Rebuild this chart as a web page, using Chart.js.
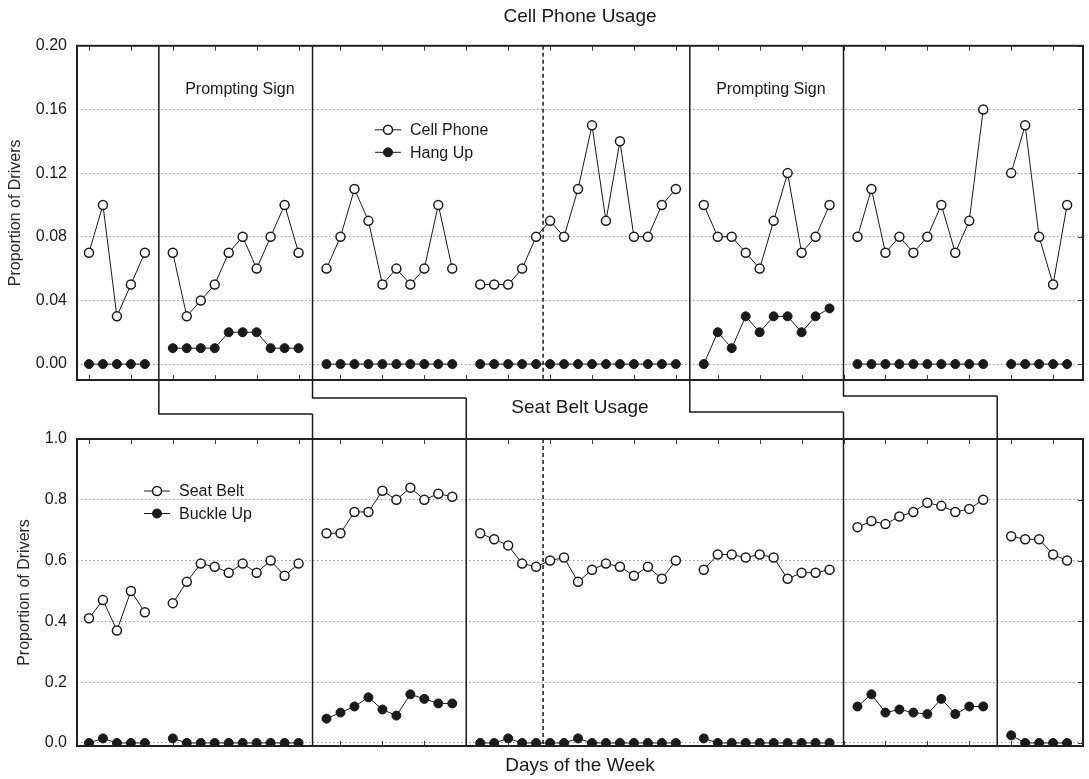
<!DOCTYPE html>
<html lang="en">
<head>
<meta charset="UTF-8">
<title>Cell Phone and Seat Belt Usage</title>
<script src="https://cdn.jsdelivr.net/npm/chart.js"></script>
<style>
  body { margin: 0; background: #fff; }
  .wrap { position: relative; width: 1089px; height: 779px; }
  .wrap canvas { position: absolute; left: 0; top: 0; }
</style>
</head>
<body>
<div class="wrap">
  <canvas id="bottomChart" width="1089" height="779"></canvas>
  <canvas id="topChart" width="1089" height="779"></canvas>
</div>
<script>
const cellPhone = [0.07, 0.10, 0.03, 0.05, 0.07, null,
  0.07, 0.03, 0.04, 0.05, 0.07, 0.08, 0.06, 0.08, 0.10, 0.07, null,
  0.06, 0.08, 0.11, 0.09, 0.05, 0.06, 0.05, 0.06, 0.10, 0.06, null,
  0.05, 0.05, 0.05, 0.06, 0.08, 0.09, 0.08, 0.11, 0.15, 0.09, 0.14, 0.08, 0.08, 0.10, 0.11, null,
  0.10, 0.08, 0.08, 0.07, 0.06, 0.09, 0.12, 0.07, 0.08, 0.10, null,
  0.08, 0.11, 0.07, 0.08, 0.07, 0.08, 0.10, 0.07, 0.09, 0.16, null,
  0.12, 0.15, 0.08, 0.05, 0.10];
const hangUp = [0, 0, 0, 0, 0, null,
  0.01, 0.01, 0.01, 0.01, 0.02, 0.02, 0.02, 0.01, 0.01, 0.01, null,
  0, 0, 0, 0, 0, 0, 0, 0, 0, 0, null,
  0, 0, 0, 0, 0, 0, 0, 0, 0, 0, 0, 0, 0, 0, 0, null,
  0, 0.02, 0.01, 0.03, 0.02, 0.03, 0.03, 0.02, 0.03, 0.035, null,
  0, 0, 0, 0, 0, 0, 0, 0, 0, 0, null,
  0, 0, 0, 0, 0];
const seatBelt = [0.41, 0.47, 0.37, 0.50, 0.43, null,
  0.46, 0.53, 0.59, 0.58, 0.56, 0.59, 0.56, 0.60, 0.55, 0.59, null,
  0.69, 0.69, 0.76, 0.76, 0.83, 0.80, 0.84, 0.80, 0.82, 0.81, null,
  0.69, 0.67, 0.65, 0.59, 0.58, 0.60, 0.61, 0.53, 0.57, 0.59, 0.58, 0.55, 0.58, 0.54, 0.60, null,
  0.57, 0.62, 0.62, 0.61, 0.62, 0.61, 0.54, 0.56, 0.56, 0.57, null,
  0.71, 0.73, 0.72, 0.745, 0.76, 0.79, 0.78, 0.76, 0.77, 0.80, null,
  0.68, 0.67, 0.67, 0.62, 0.60];
const buckleUp = [0, 0.015, 0, 0, 0, null,
  0.015, 0, 0, 0, 0, 0, 0, 0, 0, 0, null,
  0.08, 0.10, 0.12, 0.15, 0.11, 0.09, 0.16, 0.145, 0.13, 0.13, null,
  0, 0, 0.015, 0, 0, 0, 0, 0.015, 0, 0, 0, 0, 0, 0, 0, null,
  0.015, 0, 0, 0, 0, 0, 0, 0, 0, 0, null,
  0.12, 0.16, 0.10, 0.11, 0.10, 0.095, 0.145, 0.095, 0.12, 0.12, null,
  0.025, 0, 0, 0, 0];

const topTicks = [0, 0.04, 0.08, 0.12, 0.16, 0.20];
const bottomTicks = [0, 0.2, 0.4, 0.6, 0.8, 1.0];
// phase change lines (day slots), top panel -> bottom panel
const phaseTop = [5, 16, 43, 54];
const phaseBottom = [16, 27, 54, 65];
const dashedDay = 32.5;
const promptPhases = [[6, 15], [44, 53]];

Chart.defaults.font.family = '"Liberation Sans", Arial, sans-serif';
Chart.defaults.color = '#1a1a1a';

const ink = '#1a1a1a';

function toPoints(arr) {
  return arr.map((v, i) => ({ x: i, y: v }));
}

// border, inward ticks, phase lines, notes, legend
const panelDecor = {
  id: 'panelDecor',
  beforeDatasetsDraw(chart, args, o) {
    const ctx = chart.ctx, a = chart.chartArea;
    const xs = chart.scales.x, ys = chart.scales.y;
    ctx.save();
    ctx.strokeStyle = '#444';
    ctx.lineWidth = 1;
    ctx.beginPath();
    xs.ticks.forEach(t => {
      const px = Math.round(xs.getPixelForValue(t.value)) + 0.5;
      ctx.moveTo(px, a.top); ctx.lineTo(px, a.top + 5);
      ctx.moveTo(px, a.bottom); ctx.lineTo(px, a.bottom - 5);
    });
    ys.ticks.forEach(t => {
      const py = Math.round(ys.getPixelForValue(t.value)) + 0.5;
      ctx.moveTo(a.right, py); ctx.lineTo(a.right - 5, py);
    });
    ctx.stroke();

    ctx.strokeStyle = ink;
    ctx.lineWidth = 1.5;
    ctx.beginPath();
    phaseTop.forEach((d, i) => {
      const xt = xs.getPixelForValue(d), xb = xs.getPixelForValue(phaseBottom[i]);
      const s = o.steps[i];
      if (o.panel === 'top') {
        ctx.moveTo(xt, a.top); ctx.lineTo(xt, s); ctx.lineTo(xb, s);
      } else {
        ctx.moveTo(xb, s); ctx.lineTo(xb, a.bottom);
      }
    });
    ctx.stroke();

    const xd = xs.getPixelForValue(dashedDay);
    ctx.setLineDash([4, 3]);
    ctx.beginPath();
    ctx.moveTo(xd, a.top); ctx.lineTo(xd, a.bottom);
    ctx.stroke();
    ctx.setLineDash([]);

    ctx.lineWidth = 2;
    ctx.strokeStyle = '#222';
    ctx.strokeRect(a.left, a.top, a.width, a.height);

    if (o.notes) {
      ctx.fillStyle = ink;
      ctx.font = '16px "Liberation Sans", Arial, sans-serif';
      ctx.textAlign = 'center';
      ctx.textBaseline = 'middle';
      promptPhases.forEach(p => {
        const cx = xs.getPixelForValue((p[0] + p[1]) / 2 + 0.3);
        ctx.fillText('Prompting Sign', cx, a.top + 44);
      });
    }
    ctx.restore();
  },
  afterDatasetsDraw(chart, args, o) {
    const ctx = chart.ctx, a = chart.chartArea;
    const lx = a.left + o.legendX, ly = a.top + o.legendY;
    ctx.save();
    ctx.font = '16px "Liberation Sans", Arial, sans-serif';
    ctx.textBaseline = 'middle';
    ctx.textAlign = 'left';
    chart.data.datasets.forEach((ds, i) => {
      const y = ly + i * 22.5;
      ctx.strokeStyle = ink;
      ctx.lineWidth = 1;
      ctx.beginPath();
      ctx.moveTo(lx, y); ctx.lineTo(lx + 26, y);
      ctx.stroke();
      ctx.beginPath();
      ctx.arc(lx + 13, y, ds.pointRadius, 0, Math.PI * 2);
      ctx.fillStyle = ds.pointBackgroundColor;
      ctx.fill();
      ctx.lineWidth = ds.pointBorderWidth;
      ctx.stroke();
      ctx.fillStyle = ink;
      ctx.fillText(ds.label, lx + 35, y + 1);
    });
    ctx.restore();
  }
};

function openSeries(label, arr) {
  return {
    label: label, data: toPoints(arr),
    borderColor: ink, borderWidth: 1,
    pointRadius: 4.5, pointBorderWidth: 1.5,
    pointBackgroundColor: '#fff', pointBorderColor: ink,
    pointHoverRadius: 4.5
  };
}
function filledSeries(label, arr) {
  return {
    label: label, data: toPoints(arr),
    borderColor: ink, borderWidth: 1,
    pointRadius: 4.5, pointBorderWidth: 1,
    pointBackgroundColor: ink, pointBorderColor: ink,
    pointHoverRadius: 4.5
  };
}

function xScale(withTitle) {
  return {
    type: 'linear', min: -0.857, max: 71.14,
    afterBuildTicks: s => {
      const t = [];
      for (let v = 0; v <= 69; v += 3) t.push({ value: v });
      s.ticks = t;
    },
    grid: { display: false, drawTicks: false },
    border: { display: false },
    ticks: { display: false },
    title: withTitle ? {
      display: true, text: 'Days of the Week',
      font: { size: 19 }, color: ink,
      padding: { top: 8.6, bottom: 1.6 }
    } : { display: false }
  };
}

function yScale(min, max, ticks, digits, titlePad) {
  return {
    type: 'linear', min: min, max: max,
    afterBuildTicks: s => { s.ticks = ticks.map(v => ({ value: v })); },
    afterFit: s => { s.width = 77; },
    grid: { color: '#a0a0a0', lineWidth: 1, drawTicks: false },
    border: { display: false, dash: [1.5, 2.5] },
    ticks: { padding: 10, font: { size: 16 }, color: ink,
             callback: v => v.toFixed(digits) },
    title: { display: true, text: 'Proportion of Drivers',
             font: { size: 16 }, color: '#2a2a2a',
             padding: { top: titlePad, bottom: 0 } }
  };
}

new Chart(document.getElementById('topChart'), {
  type: 'line',
  data: { datasets: [openSeries('Cell Phone', cellPhone), filledSeries('Hang Up', hangUp)] },
  options: {
    responsive: false, animation: false, devicePixelRatio: 1,
    events: [],
    layout: { padding: { left: 0, right: 4, top: 0, bottom: 399 } },
    scales: { x: xScale(false), y: yScale(-0.01, 0.20, topTicks, 2, 6) },
    plugins: {
      legend: { display: false }, tooltip: { enabled: false },
      title: { display: true, text: 'Cell Phone Usage', fullSize: false,
               font: { size: 19, weight: 'normal' }, color: ink,
               padding: { top: 5, bottom: 18 } },
      panelDecor: { panel: 'top', steps: [414, 398, 412, 396], notes: true,
                    legendX: 298, legendY: 84 }
    }
  },
  plugins: [panelDecor]
});

new Chart(document.getElementById('bottomChart'), {
  type: 'line',
  data: { datasets: [openSeries('Seat Belt', seatBelt), filledSeries('Buckle Up', buckleUp)] },
  options: {
    responsive: false, animation: false, devicePixelRatio: 1,
    events: [],
    layout: { padding: { left: 0, right: 4, top: 396, bottom: 0 } },
    scales: { x: xScale(true), y: yScale(-0.01, 1.0, bottomTicks, 1, 15) },
    plugins: {
      legend: { display: false }, tooltip: { enabled: false },
      title: { display: true, text: 'Seat Belt Usage', fullSize: false,
               font: { size: 19, weight: 'normal' }, color: ink,
               padding: { top: 0, bottom: 20.2 } },
      panelDecor: { panel: 'bottom', steps: [414, 398, 412, 396], notes: false,
                    legendX: 67, legendY: 52 }
    }
  },
  plugins: [panelDecor]
});
</script>
</body>
</html>
